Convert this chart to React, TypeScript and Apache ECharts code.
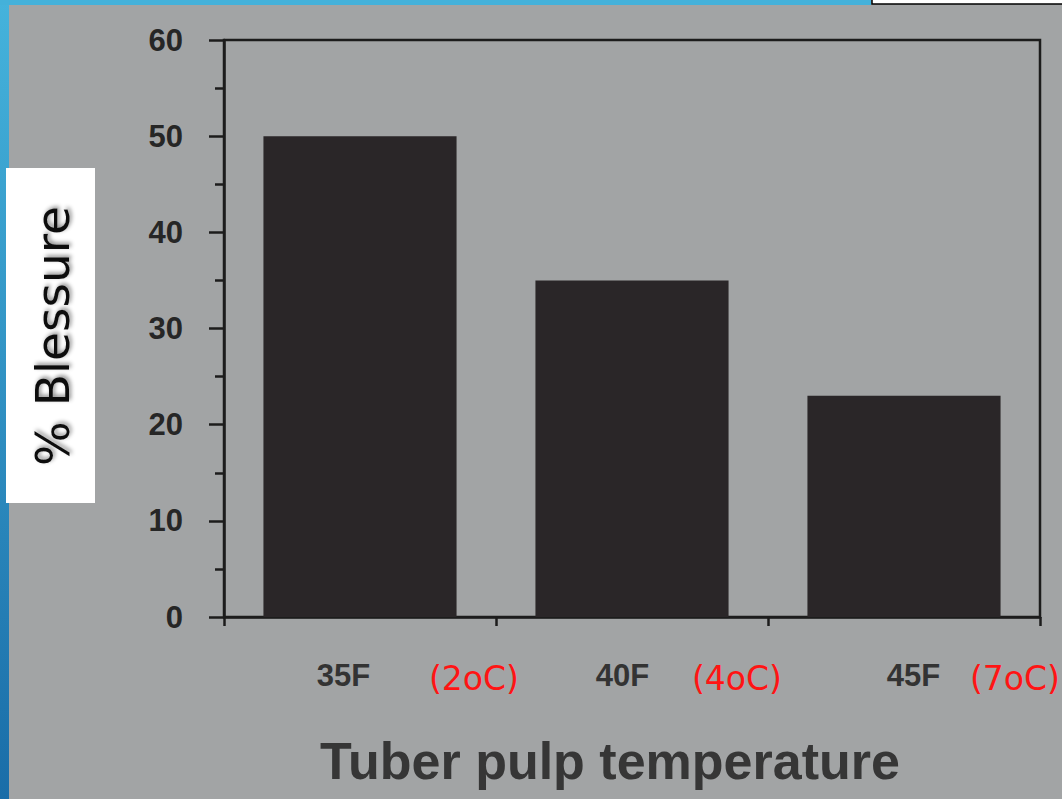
import React, { useEffect, useRef } from "react";
import * as echarts from "echarts";

const categories = ["35F", "40F", "45F"];
const celsiusLabels = ["(2oC)", "(4oC)", "(7oC)"];
const blessure = [50, 35, 23];
const yMin = 0;
const yMax = 60;
const yInterval = 10;
const xTitle = "Tuber pulp temperature";
const yTitle = "% Blessure";

export default function App() {
  const ref = useRef<HTMLDivElement>(null);
  useEffect(() => {
    const chart = echarts.init(ref.current!, null, { renderer: "svg" });
    const spacers = [63, 77, 115];
    const fWidths = [165, 133, 107];
    const rich: any = {
      c: {
        width: 96,
        fontSize: 33,
        fontFamily: "DejaVu Sans",
        color: "#ff1414",
        padding: [6, 0, 0, 0],
      },
    };
    categories.forEach((_, i) => {
      rich["s" + i] = { width: spacers[i], fontSize: 12 };
      rich["f" + i] = {
        width: fWidths[i],
        fontSize: 31,
        fontWeight: "bold",
        fontFamily: "Liberation Sans",
        color: "#333",
      };
    });
    const axisColor = "#1c1c1c";
    chart.setOption({
      animation: false,
      backgroundColor: "#a2a4a5",
      grid: {
        left: 224,
        right: 22,
        top: 40,
        bottom: 182,
        outerBoundsMode: "none",
        containLabel: false,
        show: true,
        borderColor: axisColor,
        borderWidth: 2.5,
        backgroundColor: "transparent",
      },
      xAxis: {
        type: "category",
        data: categories,
        boundaryGap: true,
        axisLine: { show: true, lineStyle: { color: axisColor, width: 2.5 } },
        axisTick: { show: true, length: 9, lineStyle: { color: axisColor, width: 2.5 } },
        axisLabel: {
          interval: 0,
          margin: 40,
          lineHeight: 36,
          hideOverlap: false,
          formatter: (v: string, i: number) =>
            `{s${i}| }{f${i}|${v}}{c|${celsiusLabels[i]}}`,
          rich,
        },
        name: xTitle,
        nameLocation: "middle",
        nameGap: 118,
        nameTextStyle: {
          fontSize: 52,
          fontWeight: "bold",
          fontFamily: "Liberation Sans",
          color: "#363636",
          padding: [0, 44, 0, 0],
        },
      },
      yAxis: {
        type: "value",
        min: yMin,
        max: yMax,
        interval: yInterval,
        axisLine: { show: true, lineStyle: { color: axisColor, width: 2.5 } },
        axisTick: { show: true, inside: false, length: 15, lineStyle: { color: axisColor, width: 2.5 } },
        minorTick: { show: true, splitNumber: 2, length: 9, lineStyle: { color: axisColor, width: 2.5 } },
        splitLine: { show: false },
        axisLabel: {
          margin: 41,
          fontSize: 31,
          fontWeight: "bold",
          fontFamily: "Liberation Sans",
          color: "#262626",
        },
      },
      series: [
        {
          type: "bar",
          data: blessure,
          barCategoryGap: "29%",
          itemStyle: { color: "#2a2628" },
        },
      ],
      graphic: [
        {
          type: "rect",
          shape: { x: 0, y: 0, width: 9, height: 799 },
          style: {
            fill: new echarts.graphic.LinearGradient(0, 0, 0, 1, [
              { offset: 0, color: "#45b3dc" },
              { offset: 1, color: "#1a6da8" },
            ]),
          },
          z: 100,
        },
        {
          type: "rect",
          shape: { x: 0, y: 0, width: 871, height: 5 },
          style: { fill: "#44b1da" },
          z: 100,
        },
        {
          type: "rect",
          shape: { x: 872, y: -2, width: 200, height: 6 },
          style: { fill: "#ffffff", stroke: "#000000", lineWidth: 1.5 },
          z: 100,
        },
        {
          type: "rect",
          shape: { x: 6, y: 168, width: 89, height: 335 },
          style: { fill: "#ffffff" },
          z: 100,
        },
        {
          type: "text",
          x: 52,
          y: 336,
          rotation: Math.PI / 2,
          style: {
            text: yTitle,
            fontSize: 47,
            fontFamily: "DejaVu Sans",
            fill: "#111111",
            align: "center",
            verticalAlign: "middle",
            textShadowColor: "rgba(0,0,0,0.45)",
            textShadowBlur: 4,
            textShadowOffsetX: 2,
            textShadowOffsetY: 2,
          },
          z: 101,
        },
      ],
    });
    return () => chart.dispose();
  }, []);
  return (
    <div
      ref={ref}
      style={{ position: "fixed", left: 0, top: 0, width: 1062, height: 799 }}
    />
  );
}
